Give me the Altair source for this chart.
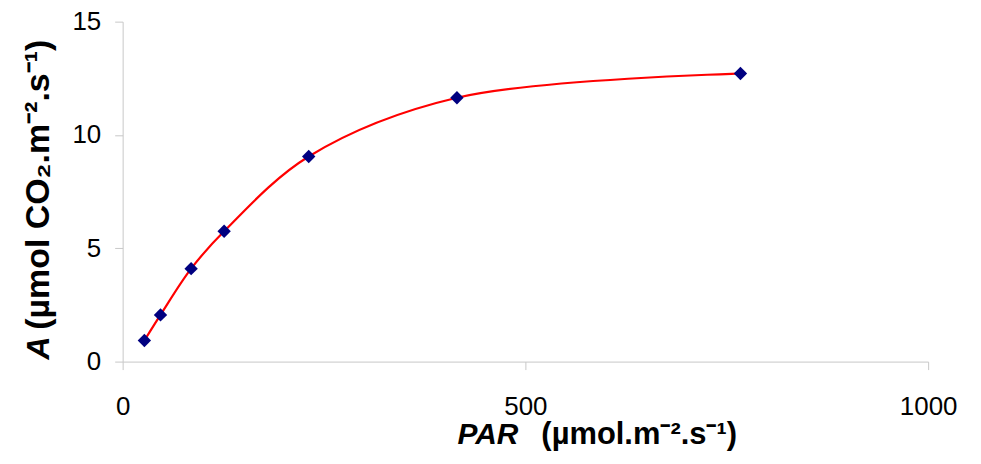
import altair as alt
import pandas as pd

par = [27, 47, 85, 126, 231, 415, 767]
a_vals = [0.93, 2.06, 4.1, 5.75, 9.05, 11.64, 12.71]
x_ticks = [0, 500, 1000]
y_ticks = [0, 5, 10, 15]

df = pd.DataFrame({"PAR": par, "A": a_vals})
FONT = "Liberation Sans"

x_enc = alt.X("PAR:Q", scale=alt.Scale(domain=[0, 1000], nice=False),
              axis=alt.Axis(values=x_ticks, format="d", title=None, grid=False, domainColor="#c8c8c8",
                            tickColor="#c8c8c8", tickSize=8, labelFont=FONT, labelFontSize=26,
                            labelColor="#000000", labelPadding=24, labelFlush=False))
y_enc = alt.Y("A:Q", scale=alt.Scale(domain=[0, 15], nice=False),
              axis=alt.Axis(values=y_ticks, format="d", title=None, grid=False, domainColor="#c8c8c8",
                            tickColor="#c8c8c8", tickSize=8, labelFont=FONT, labelFontSize=26,
                            labelColor="#000000", labelPadding=14, labelFlush=False))

base = alt.Chart(df)
line = base.mark_line(color="#ff0000", strokeWidth=2.2, interpolate="catmull-rom").encode(x=x_enc, y=y_enc)
pts = base.mark_point(shape="diamond", filled=True, color="#000080", size=180, opacity=1).encode(x="PAR:Q", y="A:Q")

title_df = pd.DataFrame({"k": [0]})
tb = alt.Chart(title_df)
x_title1 = tb.mark_text(text="PAR", font=FONT, fontSize=30, fontWeight="bold", fontStyle="italic",
                        align="right", baseline="alphabetic", color="#000000").encode(
    x=alt.value(397), y=alt.value(424))
x_title2 = tb.mark_text(text="(µmol.m⁻².s⁻¹)", font=FONT, fontSize=31, fontWeight="bold",
                        align="left", baseline="alphabetic", color="#000000").encode(
    x=alt.value(420), y=alt.value(424))
y_title1 = tb.mark_text(text="A", font=FONT, fontSize=32, fontWeight="bold", fontStyle="italic",
                        align="left", baseline="middle", angle=270, color="#000000").encode(
    x=alt.value(-84), y=alt.value(339))
y_title2 = tb.mark_text(text="(µmol CO₂.m⁻².s⁻¹)", font=FONT, fontSize=34, fontWeight="bold",
                        align="left", baseline="middle", angle=270, color="#000000").encode(
    x=alt.value(-84), y=alt.value(309))

chart = alt.layer(line, pts, x_title1, x_title2, y_title1, y_title2).properties(
    width=808, height=341,
    autosize=alt.AutoSizeParams(type="none"),
    padding={"left": 115, "top": 13, "right": 45, "bottom": 95},
    background="#ffffff",
).configure_view(stroke=None)

chart.save("out.html", embed_options={"renderer": "svg", "actions": False})
